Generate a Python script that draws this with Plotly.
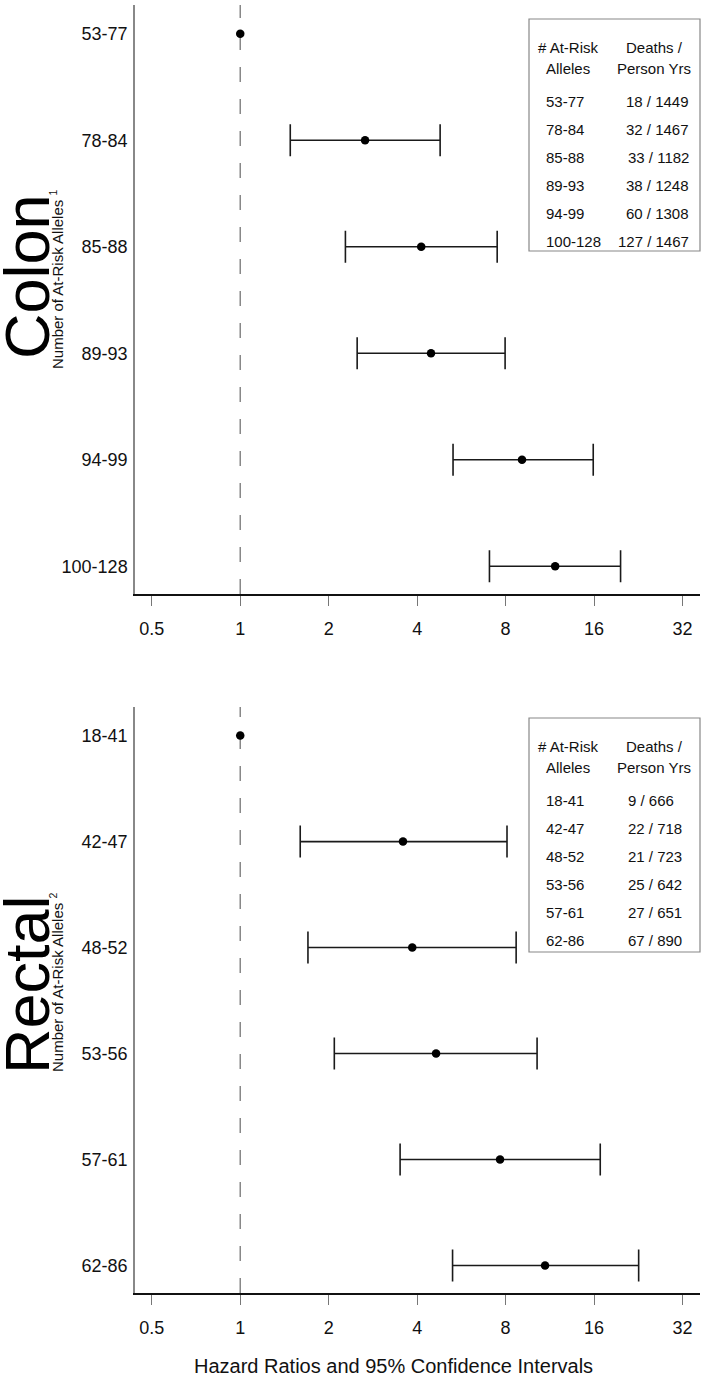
import plotly.graph_objects as go

# ---------------- data ----------------
colon_groups = ["53-77", "78-84", "85-88", "89-93", "94-99", "100-128"]
colon_hr = [1.0, 2.66, 4.13, 4.46, 9.10, 11.8]
colon_lo = [1.0, 1.48, 2.28, 2.50, 5.30, 7.05]
colon_hi = [1.0, 4.79, 7.49, 7.97, 15.9, 19.7]
colon_deaths = ["18 / 1449", "32 / 1467", "33 / 1182", "38 / 1248", "60 / 1308", "127 / 1467"]

rectal_groups = ["18-41", "42-47", "48-52", "53-56", "57-61", "62-86"]
rectal_hr = [1.0, 3.58, 3.85, 4.64, 7.66, 10.9]
rectal_lo = [1.0, 1.60, 1.70, 2.09, 3.50, 5.28]
rectal_hi = [1.0, 8.09, 8.69, 10.24, 16.8, 22.7]
rectal_deaths = ["9 / 666", "22 / 718", "21 / 723", "25 / 642", "27 / 651", "67 / 890"]

x_tickvals = [0.5, 1, 2, 4, 8, 16, 32]
x_ticktext = ["0.5", "1", "2", "4", "8", "16", "32"]

# ---------------- geometry helpers ----------------
W, H = 706, 1383
ML, MR, MT, MB = 135, 6, 5, 90
PW, PH = W - ML - MR, H - MT - MB


def px(x):
    return (x - ML) / PW


def py(y):
    return (H - MB - y) / PH


FONT = "Liberation Sans, Arial, sans-serif"
INK = "#111111"

fig = go.Figure()

panels = [
    (colon_groups, colon_hr, colon_lo, colon_hi, "x", "y"),
    (rectal_groups, rectal_hr, rectal_lo, rectal_hi, "x2", "y2"),
]
for groups, hr, lo, hi, xa, ya in panels:
    # reference category (no interval)
    fig.add_trace(go.Scatter(
        x=hr[:1], y=groups[:1], xaxis=xa, yaxis=ya, mode="markers",
        marker=dict(color="black", size=8.5), showlegend=False, hoverinfo="skip"))
    plus = [h - m for h, m in zip(hi[1:], hr[1:])]
    minus = [m - l for m, l in zip(hr[1:], lo[1:])]
    fig.add_trace(go.Scatter(
        x=hr[1:], y=groups[1:], xaxis=xa, yaxis=ya, mode="markers",
        marker=dict(color="black", size=8.5),
        error_x=dict(type="data", symmetric=False, array=plus, arrayminus=minus,
                     color="#1a1a1a", thickness=1.6, width=16),
        showlegend=False, hoverinfo="skip"))

xrange = [-0.3582, 1.5648]


def xaxis_def(anchor):
    return dict(
        anchor=anchor, domain=[0, 1], type="log", range=xrange,
        tickvals=x_tickvals, ticktext=x_ticktext,
        ticks="outside", ticklen=10, tickwidth=1, tickcolor="#777777",
        showline=True, linecolor="#111111", linewidth=1.6,
        showgrid=False, zeroline=False,
        tickfont=dict(family=FONT, size=18, color=INK),
        ticklabelstandoff=8,
    )


def yaxis_def(anchor, groups, dom):
    return dict(
        anchor=anchor, domain=dom, type="category", categoryarray=groups,
        range=[5.26, -0.27],
        showline=True, linecolor="#888888", linewidth=1.5,
        ticks="", showgrid=False, zeroline=False,
        tickfont=dict(family=FONT, size=18, color=INK),
        ticklabelstandoff=2,
    )


top_dom = [py(594), 1]
bot_dom = [0, py(707)]

shapes = []
annotations = []

for xa, ya in [("x", "y"), ("x2", "y2")]:
    shapes.append(dict(type="line", xref=xa, x0=1, x1=1,
                       yref=ya + " domain", y0=0, y1=1,
                       line=dict(color="#888888", width=1.5, dash="15px,17px"),
                       layer="below"))


def add_table(top, bottom, groups, deaths, right_align_col2):
    shapes.append(dict(type="rect", xref="paper", yref="paper",
                       x0=px(529), x1=px(700), y0=py(bottom), y1=py(top),
                       line=dict(color="#888888", width=1.2)))
    hdr = [("# At-Risk", "Deaths /", top + 28), ("Alleles", "Person Yrs", top + 49)]
    for a, b, yy in hdr:
        annotations.append(dict(text=a, x=px(568), y=py(yy), xref="paper", yref="paper",
                                xanchor="center", yanchor="middle", showarrow=False,
                                font=dict(family=FONT, size=15, color=INK)))
        annotations.append(dict(text=b, x=px(654), y=py(yy), xref="paper", yref="paper",
                                xanchor="center", yanchor="middle", showarrow=False,
                                font=dict(family=FONT, size=15, color=INK)))
    for i, (g, d) in enumerate(zip(groups, deaths)):
        yy = top + 82 + i * 28.1
        annotations.append(dict(text=g, x=px(544), y=py(yy), xref="paper", yref="paper",
                                xanchor="left", yanchor="middle", showarrow=False,
                                font=dict(family=FONT, size=15, color=INK)))
        if right_align_col2:
            annotations.append(dict(text=d, x=px(691), y=py(yy), xref="paper", yref="paper",
                                    xanchor="right", yanchor="middle", showarrow=False,
                                    font=dict(family=FONT, size=15, color=INK)))
        else:
            annotations.append(dict(text=d, x=px(626), y=py(yy), xref="paper", yref="paper",
                                    xanchor="left", yanchor="middle", showarrow=False,
                                    font=dict(family=FONT, size=15, color=INK)))


add_table(19, 251, colon_groups, colon_deaths, True)
add_table(718, 952, rectal_groups, rectal_deaths, False)

# side titles
for word, sup, yc, ycs in [("Colon", "1", 277, 280), ("Rectal", "2", 985, 983)]:
    annotations.append(dict(text=word, x=px(27), y=py(yc), xref="paper", yref="paper",
                            xanchor="center", yanchor="middle", textangle=-90, showarrow=False,
                            height=52, valign="middle",
                            font=dict(family=FONT, size=63, color="black")))
    annotations.append(dict(text="Number of At-Risk Alleles <sup>" + sup + "</sup>",
                            x=px(56), y=py(ycs), xref="paper", yref="paper",
                            xanchor="center", yanchor="middle", textangle=-90, showarrow=False,
                            font=dict(family=FONT, size=15, color=INK)))

annotations.append(dict(text="Hazard Ratios and 95% Confidence Intervals",
                        x=px(393), y=py(1366), xref="paper", yref="paper",
                        xanchor="center", yanchor="middle", showarrow=False,
                        font=dict(family=FONT, size=20, color=INK)))

fig.update_layout(
    width=W, height=H,
    margin=dict(l=ML, r=MR, t=MT, b=MB),
    paper_bgcolor="white", plot_bgcolor="white",
    xaxis=xaxis_def("y"), yaxis=yaxis_def("x", colon_groups, top_dom),
    xaxis2=xaxis_def("y2"), yaxis2=yaxis_def("x2", rectal_groups, bot_dom),
    shapes=shapes, annotations=annotations,
    showlegend=False,
)

fig.write_html("out.html", config={"displayModeBar": False},
               post_script="document.body.style.margin='0';")
